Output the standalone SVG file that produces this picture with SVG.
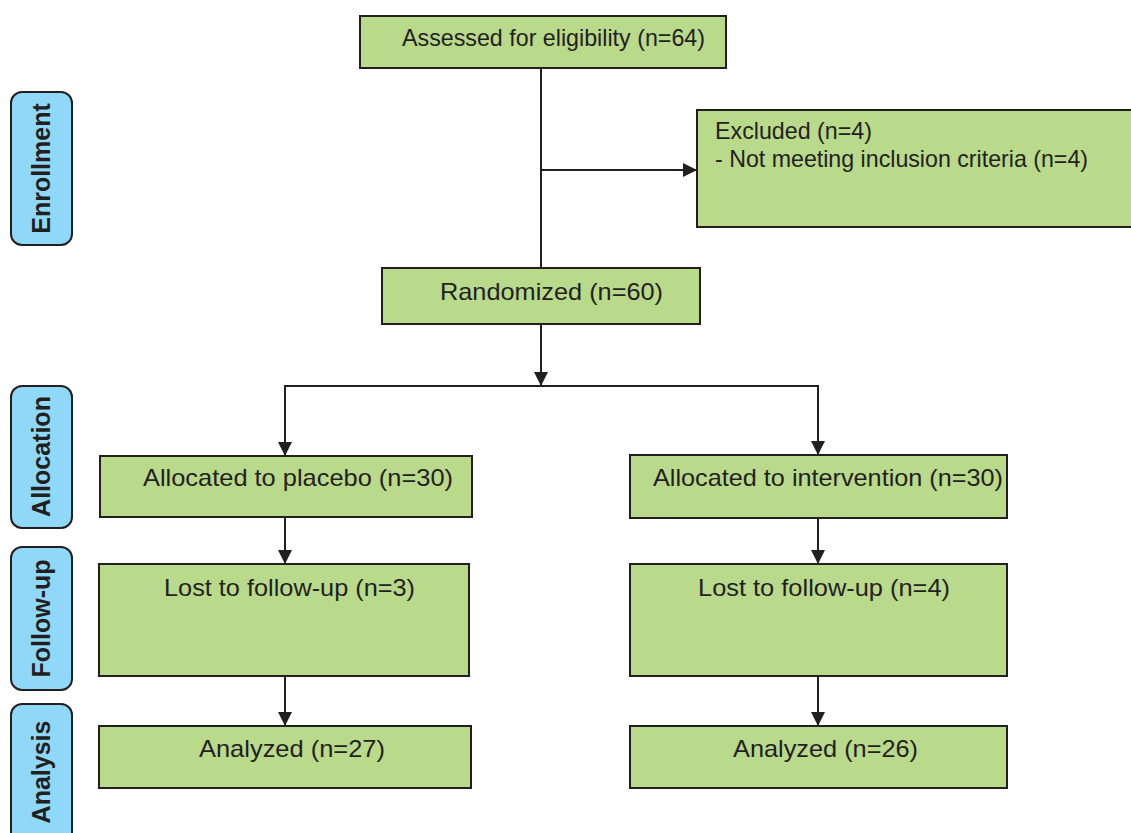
<svg xmlns="http://www.w3.org/2000/svg" width="1131" height="833" viewBox="0 0 1131 833">
<defs>
<style>
.box{fill:#b9d98b;stroke:#231f20;stroke-width:2}
.side{fill:#8fd8f8;stroke:#231f20;stroke-width:2}
.t{font-family:"Liberation Sans",Arial,sans-serif;font-size:24px;fill:#231f20}
.s{font-family:"Liberation Sans",Arial,sans-serif;font-size:25px;font-weight:bold;fill:#231f20;text-anchor:middle}
.c{fill:none;stroke:#231f20;stroke-width:2}
</style>
<marker id="ah" markerUnits="userSpaceOnUse" markerWidth="14" markerHeight="14" viewBox="0 0 14 14" refX="14" refY="7" orient="auto">
<path d="M0,0 L14,7 L0,14 z" fill="#231f20"/>
</marker>
</defs>
<rect width="1131" height="833" fill="#fff"/>

<g id="side-enrollment"><rect class="side" x="11" y="92" width="61" height="153" rx="11"/><text class="s" transform="translate(50,168.5) rotate(-90)">Enrollment</text></g>
<g id="side-allocation"><rect class="side" x="11" y="386" width="61" height="142" rx="11"/><text class="s" transform="translate(50,456.5) rotate(-90)">Allocation</text></g>
<g id="side-followup"><rect class="side" x="11" y="547" width="61" height="143" rx="11"/><text class="s" transform="translate(50,618.5) rotate(-90)">Follow-up</text></g>
<g id="side-analysis"><rect class="side" x="11" y="704" width="61" height="145" rx="11"/><text class="s" transform="translate(50,772) rotate(-90)">Analysis</text></g>

<g id="connectors">
<line class="c" x1="541" y1="67" x2="541" y2="268"/>
<line class="c" x1="541" y1="170" x2="697" y2="170" marker-end="url(#ah)"/>
<line class="c" x1="541" y1="324" x2="541" y2="386" marker-end="url(#ah)"/>
<polyline class="c" points="285,456 285,386 818,386 818,456"/>
<line class="c" x1="285" y1="420" x2="285" y2="456" marker-end="url(#ah)"/>
<line class="c" x1="818" y1="420" x2="818" y2="455" marker-end="url(#ah)"/>
<line class="c" x1="285" y1="517" x2="285" y2="564" marker-end="url(#ah)"/>
<line class="c" x1="285" y1="676" x2="285" y2="726" marker-end="url(#ah)"/>
<line class="c" x1="818" y1="518" x2="818" y2="564" marker-end="url(#ah)"/>
<line class="c" x1="818" y1="676" x2="818" y2="726" marker-end="url(#ah)"/>
</g>

<g id="assessed"><rect class="box" x="360" y="16" width="366" height="52"/><text class="t" x="402" y="46" textLength="303" lengthAdjust="spacingAndGlyphs">Assessed for eligibility (n=64)</text></g>
<g id="excluded"><rect class="box" x="697" y="110" width="445" height="117"/><text class="t" x="715" y="139" textLength="157" lengthAdjust="spacingAndGlyphs">Excluded (n=4)</text><text class="t" x="715" y="167" textLength="373" lengthAdjust="spacingAndGlyphs">- Not meeting inclusion criteria (n=4)</text></g>
<g id="randomized"><rect class="box" x="382" y="268" width="318" height="56"/><text class="t" x="440" y="300" textLength="223" lengthAdjust="spacingAndGlyphs">Randomized (n=60)</text></g>
<g id="alloc-placebo"><rect class="box" x="100" y="456" width="372" height="61"/><text class="t" x="143" y="486" textLength="310" lengthAdjust="spacingAndGlyphs">Allocated to placebo (n=30)</text></g>
<g id="alloc-intervention"><rect class="box" x="630" y="455" width="377" height="63"/><text class="t" x="653" y="486" textLength="350" lengthAdjust="spacingAndGlyphs">Allocated to intervention (n=30)</text></g>
<g id="lost-placebo"><rect class="box" x="99" y="564" width="370" height="112"/><text class="t" x="164" y="596" textLength="251" lengthAdjust="spacingAndGlyphs">Lost to follow-up (n=3)</text></g>
<g id="lost-intervention"><rect class="box" x="630" y="564" width="377" height="112"/><text class="t" x="698" y="596" textLength="252" lengthAdjust="spacingAndGlyphs">Lost to follow-up (n=4)</text></g>
<g id="analyzed-placebo"><rect class="box" x="99" y="726" width="372" height="62"/><text class="t" x="199" y="757" textLength="186" lengthAdjust="spacingAndGlyphs">Analyzed (n=27)</text></g>
<g id="analyzed-intervention"><rect class="box" x="630" y="726" width="377" height="62"/><text class="t" x="733" y="757" textLength="185" lengthAdjust="spacingAndGlyphs">Analyzed (n=26)</text></g>
</svg>
